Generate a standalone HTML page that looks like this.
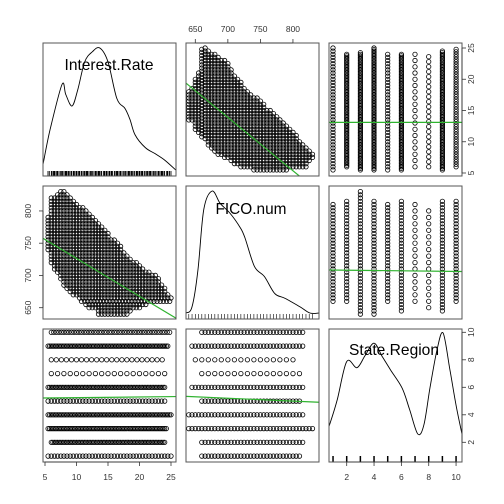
<!DOCTYPE html>
<html><head><meta charset="utf-8"><style>
html,body{margin:0;padding:0;background:#fff}
svg{display:block;font-family:"Liberation Sans",sans-serif}
</style></head><body>
<svg id="chart" width="504" height="504" viewBox="0 0 504 504" xmlns="http://www.w3.org/2000/svg"></svg>
<script>
// ---- data ----
const ficoVals = [640,645,650,655,660,665,670,675,680,685,690,695,700,705,710,715,720,725,730,735,740,745,750,755,760,765,770,775,780,785,790,795,800,805,810,815,820,825,830];
const rateMinByFico = [13.5,13.5,12,11.5,10.8,10.5,9.5,9,8.5,8,8,7.5,7.5,7,6.5,6.5,6,6,6,6,5.5,5.5,5.5,5.5,5.5,5.5,5.5,5.5,5.5,5.5,5.5,6,6,6,6,6,6,7,7.5];
const rateMaxByFico = [18,18.5,20,21,25,25,24.5,24,24,23.5,23,23,22.5,21.5,20.5,20,19.5,18.5,18,17.5,17,17,16.5,16,15,15,14.5,14,13.5,13,12.5,12,11.5,11,10,9.5,9,8.5,8];
const regions = [1,2,3,4,5,6,7,8,9,10];
const rateMinByRegion = [5.5,6,5.5,5.5,5.5,5.5,6,6,5.5,6];
const rateMaxByRegion = [25,24,24.3,25,24,24,24,24,24.5,25];
const rateStepByRegion = [0.5,0.25,0.25,0.25,0.5,0.25,1,0.8,0.25,0.4];
const ficoMinByRegion = [660,660,640,640,660,645,660,650,645,660];
const ficoMaxByRegion = [810,815,830,815,810,815,810,805,815,815];
const ficoStepByRegion = [5,5,5,5,5,5,10,10,5,5];
const rateDensX = [4.7,5.8,7.7,8.3,9.3,10.2,11.3,12.5,13.7,15.0,16.4,17.7,18.5,19.3,20.9,22.5,24.0,25.8];
const rateDensY = [0.08,0.35,0.71,0.63,0.54,0.67,0.89,0.97,1.0,0.89,0.60,0.52,0.43,0.31,0.21,0.16,0.11,0.03];
const ficoDensX = [636,645,654,663,676,688,703,719,726,741,756,772,788,811,826,840];
const ficoDensY = [0,0.05,0.35,0.85,1.0,0.90,0.82,0.70,0.62,0.38,0.30,0.16,0.12,0.05,0,0];
const regDensX = [0.7,1.3,2.0,2.75,3.35,4.0,4.6,5.2,6.05,6.6,7.2,7.65,8.1,8.6,9.05,9.55,10.0,10.45];
const regDensY = [0.08,0.34,0.72,0.66,0.78,0.90,0.77,0.64,0.46,0.25,0.01,0.10,0.47,0.83,1.0,0.64,0.29,0.0];
const fitRateOnFico = [19.35,636,-0.0853];
const fitFicoOnRate = [757.6,4.68,-5.87];
const fitRateOnRegion = [13.1,0.7,0.0];
const fitFicoOnRegion = [708.5,0.7,-0.25];
const fitRegionOnRate = [5.22,4.68,0.005];
const fitRegionOnFico = [5.34,636,-0.0021];
const rateTicks = [5,10,15,20,25];
const ficoTicks = [650,700,750,800];
const regionTicks = [2,4,6,8,10];

// ---- scales ----
const P = [43,186,329]; const S = 133;
const rx = r => 45+(r-5)*6.3;
const ry = r => 173-(r-5)*6.25;
const fx = f => 195.3+(f-650)*0.651;
const fy = f => 307.7-(f-650)*0.645;
const gx = g => 346.7+(g-2)*13.67;
const gy = g => 442.3-(g-2)*13.75;

const svg = document.getElementById('chart');
const NS = 'http://www.w3.org/2000/svg';
function mk(tag, attrs, parent){ const e=document.createElementNS(NS,tag); for(const k in attrs) e.setAttribute(k,attrs[k]); (parent||svg).appendChild(e); return e; }

function clip(id,i,j){ const c=mk('clipPath',{id:id}); mk('rect',{x:P[j],y:P[i],width:S,height:S},c); }
for(let i=0;i<3;i++)for(let j=0;j<3;j++) clip('c'+i+j,i,j);

function group(i,j,name){ const g=mk('g',{'clip-path':'url(#c'+i+j+')'});
  
  
  return g; }
function pt(g,x,y){ const c=mk('circle',{cx:x.toFixed(1),cy:y.toFixed(1),r:2.2,fill:'none',stroke:'#000','stroke-width':0.8},g);
  
   }
function fitLine(g,x1,y1,x2,y2){ const l=mk('line',{x1:x1,y1:y1,x2:x2,y2:y2,stroke:'#2fb32f','stroke-width':1.2},g);
  
   }

let g01 = group(0,1,'panel-rate-vs-fico');
ficoVals.forEach((f,k)=>{ for(let r=rateMinByFico[k]; r<=rateMaxByFico[k]+1e-9; r+=0.5) pt(g01,fx(f),ry(r)); });
{const a=fitRateOnFico; fitLine(g01,fx(600),ry(a[0]+a[2]*(600-a[1])),fx(860),ry(a[0]+a[2]*(860-a[1])));}
let g10 = group(1,0,'panel-fico-vs-rate');
ficoVals.forEach((f,k)=>{ for(let r=rateMinByFico[k]; r<=rateMaxByFico[k]+1e-9; r+=0.5) pt(g10,rx(r),fy(f)); });
{const a=fitFicoOnRate; fitLine(g10,rx(0),fy(a[0]+a[2]*(0-a[1])),rx(30),fy(a[0]+a[2]*(30-a[1])));}
let g02 = group(0,2,'panel-rate-vs-region');
regions.forEach((q,k)=>{ for(let r=rateMinByRegion[k]; r<=rateMaxByRegion[k]+1e-9; r+=rateStepByRegion[k]) pt(g02,gx(q),ry(r)); });
{const a=fitRateOnRegion; fitLine(g02,gx(0),ry(a[0]+a[2]*(0-a[1])),gx(12),ry(a[0]+a[2]*(12-a[1])));}
let g20 = group(2,0,'panel-region-vs-rate');
regions.forEach((q,k)=>{ for(let r=rateMinByRegion[k]; r<=rateMaxByRegion[k]+1e-9; r+=rateStepByRegion[k]) pt(g20,rx(r),gy(q)); });
{const a=fitRegionOnRate; fitLine(g20,rx(0),gy(a[0]+a[2]*(0-a[1])),rx(30),gy(a[0]+a[2]*(30-a[1])));}
let g12 = group(1,2,'panel-fico-vs-region');
regions.forEach((q,k)=>{ for(let f=ficoMinByRegion[k]; f<=ficoMaxByRegion[k]; f+=ficoStepByRegion[k]) pt(g12,gx(q),fy(f)); });
{const a=fitFicoOnRegion; fitLine(g12,gx(0),fy(a[0]+a[2]*(0-a[1])),gx(12),fy(a[0]+a[2]*(12-a[1])));}
let g21 = group(2,1,'panel-region-vs-fico');
regions.forEach((q,k)=>{ for(let f=ficoMinByRegion[k]; f<=ficoMaxByRegion[k]; f+=ficoStepByRegion[k]) pt(g21,fx(f),gy(q)); });
{const a=fitRegionOnFico; fitLine(g21,fx(600),gy(a[0]+a[2]*(600-a[1])),fx(860),gy(a[0]+a[2]*(860-a[1])));}

function smoothPath(pts){
  let d='M'+pts[0][0].toFixed(1)+','+pts[0][1].toFixed(1);
  for(let k=0;k<pts.length-1;k++){
    const p0=pts[k-1]||pts[k], p1=pts[k], p2=pts[k+1], p3=pts[k+2]||p2;
    const c1=[p1[0]+(p2[0]-p0[0])/6, p1[1]+(p2[1]-p0[1])/6];
    const c2=[p2[0]-(p3[0]-p1[0])/6, p2[1]-(p3[1]-p1[1])/6];
    d+=' C'+c1[0].toFixed(1)+','+c1[1].toFixed(1)+' '+c2[0].toFixed(1)+','+c2[1].toFixed(1)+' '+p2[0].toFixed(1)+','+p2[1].toFixed(1);
  }
  return d;
}
function dens(i,j,xs,ds,xf,base,h,name){
  const g=group(i,j,name);
  const pts=xs.map((v,k)=>[xf(v), base-ds[k]*h]);
  const p=mk('path',{d:smoothPath(pts),fill:'none',stroke:'#000','stroke-width':0.9},g);
  
  
  return g;
}
let d0 = dens(0,0,rateDensX,rateDensY,rx,174,126,'panel-rate-density');
let d1 = dens(1,1,ficoDensX,ficoDensY,fx,313,122,'panel-fico-density');
let d2 = dens(2,2,regDensX,regDensY,gx,435,102,'panel-region-density');
const rugRates = []; regions.forEach((q,k)=>{ for(let r=rateMinByRegion[k]; r<=rateMaxByRegion[k]+1e-9; r+=rateStepByRegion[k]) rugRates.push(r); });
rugRates.forEach(r=>mk('line',{x1:rx(r),x2:rx(r),y1:171,y2:176,stroke:'#000','stroke-width':0.6},d0));
ficoVals.forEach(f=>mk('line',{x1:fx(f),x2:fx(f),y1:314,y2:319,stroke:'#000','stroke-width':0.6},d1));
regions.forEach(q=>mk('line',{x1:gx(q),x2:gx(q),y1:456,y2:462,stroke:'#000','stroke-width':1.5},d2));

for(let i=0;i<3;i++)for(let j=0;j<3;j++){ const r=mk('rect',{x:P[j],y:P[i],width:S,height:S,fill:'none',stroke:'#555','stroke-width':1});
  
   }

function lab(x,y,t,w,name){ const e=mk('text',{x:x-w/2,y:y,'font-size':16,textLength:w,lengthAdjust:'spacingAndGlyphs',fill:'#000'}); e.textContent=t;
  
   }
lab(109,70,'Interest.Rate',89,'label-interest-rate');
lab(251,214,'FICO.num',71,'label-fico-num');
lab(394,355,'State.Region',90,'label-state-region');

function axis(side,ticks,sc,pos,name){
  const g=mk('g',{});
  
  
  const a=sc(ticks[0]), b=sc(ticks[ticks.length-1]);
  if(side==='top'||side==='bottom'){
    mk('line',{x1:a,x2:b,y1:pos,y2:pos,stroke:'#333','stroke-width':0.8},g);
    ticks.forEach(t=>{ const d=side==='top'?-4:4; mk('line',{x1:sc(t),x2:sc(t),y1:pos,y2:pos+d,stroke:'#333','stroke-width':0.8},g);
      const e=mk('text',{x:sc(t),y:side==='top'?pos-11:pos+18,'font-size':8.5,'text-anchor':'middle',fill:'#333'},g); e.textContent=t; });
  } else {
    mk('line',{x1:pos,x2:pos,y1:a,y2:b,stroke:'#333','stroke-width':0.8},g);
    ticks.forEach(t=>{ const d=side==='left'?-4:4; mk('line',{x1:pos,x2:pos+d,y1:sc(t),y2:sc(t),stroke:'#333','stroke-width':0.8},g);
      const tx=side==='left'?pos-12:pos+12;
      const e=mk('text',{x:tx,y:sc(t),'font-size':8.5,'text-anchor':'middle',fill:'#333',transform:'rotate(-90 '+tx+' '+sc(t)+')'},g); e.textContent=t; });
  }
}
axis('top',ficoTicks,fx,43,'x-axis-fico-top');
axis('right',rateTicks,ry,462,'y-axis-rate-right');
axis('left',ficoTicks,fy,43,'y-axis-fico-left');
axis('right',regionTicks,gy,462,'y-axis-region-right');
axis('bottom',rateTicks,rx,462,'x-axis-rate-bottom');
axis('bottom',regionTicks,gx,462,'x-axis-region-bottom');
</script>
</body></html>
